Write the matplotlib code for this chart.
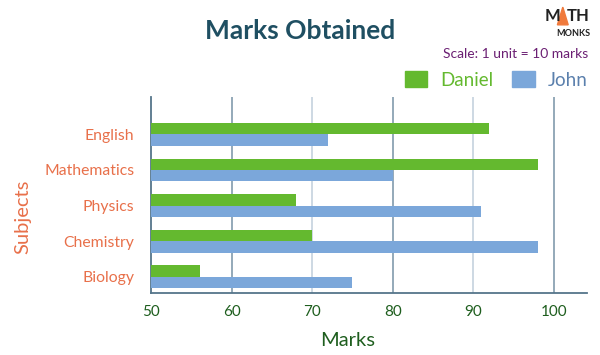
import matplotlib.pyplot as plt
import numpy as np
from matplotlib.patches import Patch, Polygon

plt.rcParams['font.family'] = ['Lato', 'DejaVu Sans']

# data
subjects = ['English', 'Mathematics', 'Physics', 'Chemistry', 'Biology']
daniel = [92, 98, 68, 70, 56]
john = [72, 80, 91, 98, 75]
ticks = [50, 60, 70, 80, 90, 100]

green = '#64b92f'
blue = '#7ba7da'
orange = '#e8704a'
dkgreen = '#1e5e1e'

fig = plt.figure(figsize=(6, 3.55), dpi=100)
ax = fig.add_axes([0.252, 0.175, 0.726, 0.552])

y = np.arange(len(subjects))[::-1]
h = 0.32
ax.barh(y + h / 2, np.array(daniel) - 50, left=50, height=h, color=green, zorder=3)
ax.barh(y - h / 2, np.array(john) - 50, left=50, height=h, color=blue, zorder=3)

ax.set_xlim(50, 104.1)
ax.set_ylim(-0.45, 5.05)

# grid lines, alternating shades
for t in ticks[1:]:
    c = '#8ba3b3' if t % 20 == 0 else '#c9d6e0'
    ax.axvline(t, color=c, lw=1.3, zorder=1)

ax.set_xticks(ticks)
ax.set_xticklabels([str(t) for t in ticks], color=dkgreen, fontsize=11)
ax.set_yticks(y)
ax.set_yticklabels(subjects, color=orange, fontsize=11.3)
ax.tick_params(length=0, pad=9)
ax.tick_params(axis='y', pad=12)

for s in ['top', 'right']:
    ax.spines[s].set_visible(False)
for s in ['left', 'bottom']:
    ax.spines[s].set_color('#55758a')
    ax.spines[s].set_linewidth(1.3)

ax.set_xlabel('Marks', color=dkgreen, fontsize=14.5)
ax.xaxis.set_label_coords(0.452, -0.2)
ax.set_ylabel('Subjects', color=orange, fontsize=14.5)
ax.yaxis.set_label_coords(-0.275, 0.39)

fig.text(0.5, 0.913, 'Marks Obtained', ha='center', va='center',
         fontsize=19, fontweight='bold', color='#1f4f62')
fig.text(0.98, 0.848, 'Scale: 1 unit = 10 marks', ha='right', va='center',
         fontsize=10, color='#6b1f73')

# logo
fig.text(0.921, 0.955, 'M', ha='center', va='center', fontsize=12,
         fontweight='bold', color='#222222')
fig.text(0.963, 0.955, 'TH', ha='center', va='center', fontsize=12,
         fontweight='bold', color='#222222')
fig.patches.append(Polygon([[0.929, 0.93], [0.947, 0.93], [0.938, 0.98]],
                           closed=True, transform=fig.transFigure,
                           color='#f07a3c', figure=fig))
fig.text(0.955, 0.905, 'MONKS', ha='center', va='center', fontsize=6.5,
         fontweight='bold', color='#222222')

handles = [Patch(color=green), Patch(color=blue)]
leg = fig.legend(handles, ['Daniel', 'John'], ncol=2, loc='center right',
                 bbox_to_anchor=(1.008, 0.775), frameon=False, fontsize=13.5,
                 handlelength=1.2, handleheight=0.95, columnspacing=1.0,
                 handletextpad=0.7)
leg.get_texts()[0].set_color(green)
leg.get_texts()[1].set_color('#5b80ad')

fig.savefig('out.png', dpi=100)
